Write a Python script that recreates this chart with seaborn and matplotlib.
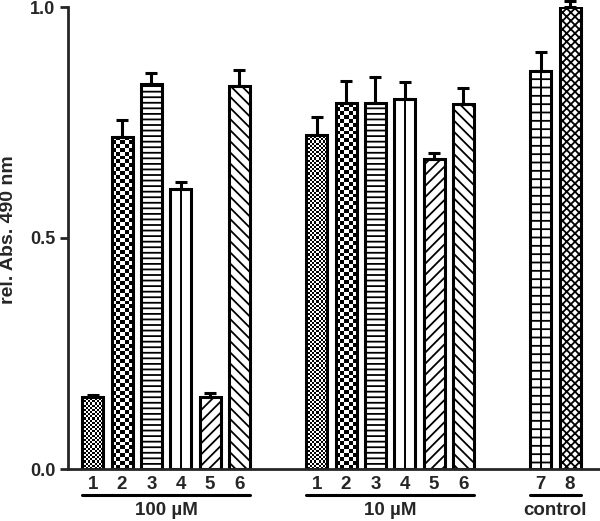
import numpy as np
import pandas as pd
import matplotlib
matplotlib.use("Agg")
import matplotlib.pyplot as plt
import seaborn as sns

# data
groups = ["100 µM", "10 µM", "control"]
bar_labels = [["1", "2", "3", "4", "5", "6"],
              ["1", "2", "3", "4", "5", "6"],
              ["7", "8"]]
values_100 = [0.156, 0.719, 0.833, 0.606, 0.156, 0.829]
errors_100 = [0.005, 0.036, 0.024, 0.015, 0.009, 0.035]
values_10 = [0.723, 0.792, 0.792, 0.801, 0.671, 0.790]
errors_10 = [0.039, 0.048, 0.056, 0.037, 0.013, 0.035]
values_ctrl = [0.861, 1.000]
errors_ctrl = [0.042, 0.012]

sns.set_style("ticks")
plt.rcParams["font.family"] = ["Liberation Sans", "DejaVu Sans"]
plt.rcParams["font.weight"] = "bold"
plt.rcParams["hatch.linewidth"] = 1.3

# build table, leaving a gap between groups
gap = 2.63
rows = []
start = 0.0
for g, labs, vals, errs in zip(groups, bar_labels,
                               [values_100, values_10, values_ctrl],
                               [errors_100, errors_10, errors_ctrl]):
    for i, (lab, v, e) in enumerate(zip(labs, vals, errs)):
        rows.append({"group": g, "label": lab, "pos": start + i, "value": v, "err": e})
    start = start + len(labs) - 1 + gap
df = pd.DataFrame(rows)

fig = plt.figure(figsize=(6, 5.21), dpi=100)
ax = fig.add_axes([68 / 600, 52 / 521, 532 / 600, 462 / 521])

sns.barplot(data=df, x="pos", y="value", native_scale=True, width=0.715,
            color="white", saturation=1, edgecolor="black", linewidth=2.2,
            errorbar=None, ax=ax, zorder=2)

ax.errorbar(df["pos"], df["value"], yerr=[np.zeros(len(df)), df["err"]],
            fmt="none", ecolor="black", elinewidth=2.2, capsize=4.3,
            capthick=2.2, zorder=3, clip_on=False)

# fill patterns by bar label
hatches = {"3": "---", "5": "///", "6": "\\\\\\", "7": "--", "8": "xxxx"}
checkers = {"1": (10, 0.0046), "2": (5, 0.0085)}
for patch, lab in zip(ax.patches, df["label"]):
    x0, y0 = patch.get_x(), patch.get_y()
    w, h = patch.get_width(), patch.get_height()
    if lab in hatches:
        patch.set_hatch(hatches[lab])
    if lab in checkers:
        nx, cell_h = checkers[lab]
        ny = max(1, int(round(h / cell_h)))
        arr = (np.add.outer(np.arange(ny), np.arange(nx)) % 2).astype(float)
        patch.set_facecolor("none")
        im = ax.imshow(arr, cmap="gray_r", extent=(x0, x0 + w, y0, y0 + h),
                       aspect="auto", interpolation="nearest", zorder=1.5,
                       vmin=0, vmax=1)
        im.set_clip_path(patch)
    if lab in ("4", "7"):
        ax.plot([x0 + w / 2, x0 + w / 2], [y0, y0 + h], color="black",
                lw=1.4, zorder=2.1)

ax.set_xlim(-0.84, 17.28)
ax.set_ylim(0, 1.0)
ax.set_yticks([0, 0.5, 1.0])
ax.set_yticklabels(["0.0", "0.5", "1.0"], fontsize=13, fontweight="bold")
ax.set_xticks(df["pos"])
ax.set_xticklabels(df["label"], fontsize=13.5, fontweight="bold")
ax.tick_params(axis="x", length=0, pad=5)
ax.tick_params(axis="y", length=6, width=2, pad=3)
ax.set_xlabel("")
ax.set_ylabel("rel. Abs. 490 nm", fontsize=14, fontweight="bold")
ax.yaxis.set_label_coords(-0.096, 0.519)
for s in ["left", "bottom"]:
    ax.spines[s].set_linewidth(2)
sns.despine(ax=ax)

# group underlines and names
trans = ax.get_xaxis_transform()
for g in groups:
    sub = df[df["group"] == g]
    left = sub["pos"].min() - 0.36
    right = sub["pos"].max() + 0.36
    ax.plot([left, right], [-0.057, -0.057], color="black", lw=2.2,
            transform=trans, clip_on=False)
    ax.text((left + right) / 2, -0.089, g, transform=trans, ha="center",
            va="center", fontsize=13.5, fontweight="bold")

fig.savefig("out.png", dpi=100)
